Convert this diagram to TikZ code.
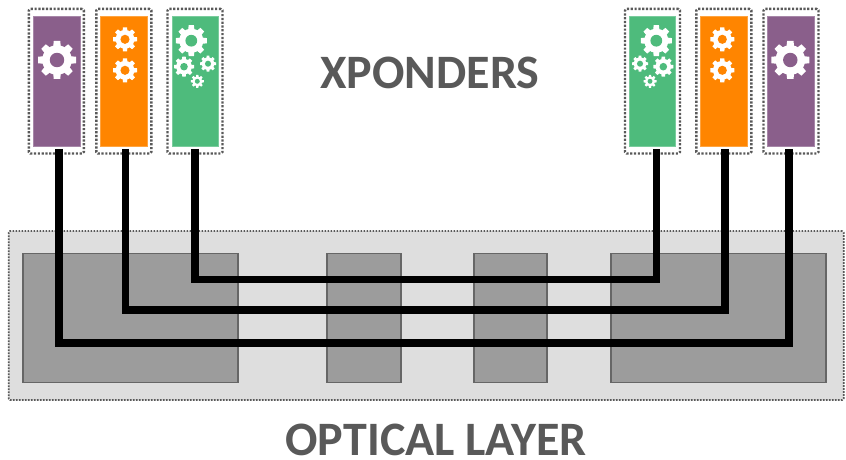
\documentclass[tikz,border=0pt]{standalone}
\usepackage{fontspec}
\setmainfont{Carlito}
\usepackage{xcolor}
\usetikzlibrary{positioning,calc}

\definecolor{xpPurple}{HTML}{8A5F8B}
\definecolor{xpOrange}{HTML}{FF8500}
\definecolor{xpGreen}{HTML}{4EBB7C}
\definecolor{layerGray}{HTML}{DEDEDE}
\definecolor{blockGray}{HTML}{9C9C9C}
\definecolor{labelGray}{HTML}{595959}

% gear at x, y with radius and background colour
\newcommand{\gearicon}[4]{
  \begin{scope}[shift={(#1,#2)},scale=#3]
    \fill[white] (0,0) circle (0.78);
    \foreach \a in {0,45,...,315}
      \fill[white,rotate=\a] (-0.21,0.6) -- (-0.17,1) -- (0.17,1) -- (0.21,0.6) -- cycle;
    \fill[#4] (0,0) circle (0.38);
  \end{scope}
}

\begin{document}
\begin{tikzpicture}[x=1pt,y=-1pt,
  xpcard/.style={rectangle, draw=#1!75!white, fill=#1, line width=0.6pt, minimum width=46.5pt, minimum height=130pt, inner sep=0pt},
  xpframe/.style={rectangle, draw=labelGray, dash pattern=on 2.2pt off 1.6pt, line width=2.4pt, rounded corners=1.5pt, minimum width=55pt, minimum height=144.5pt, inner sep=0pt},
  oblock/.style={rectangle, draw=black!60, fill=blockGray, line width=1.7pt, minimum height=129pt, inner sep=0pt},
  fibre/.style={line width=7.6pt, black, line join=miter},
  biglabel/.style={font=\bfseries\fontsize{48}{48}\selectfont, text=labelGray, inner sep=0pt}]
\useasboundingbox (0,0) rectangle (846,460);

% Optical layer and its blocks
\node[rectangle, draw=labelGray, fill=layerGray, dash pattern=on 1.7pt off 1.3pt, line width=1.8pt, rounded corners=1.5pt, minimum width=835pt, minimum height=169pt, inner sep=0pt] (layer) at (426.2,315.5) {};
\node[oblock, minimum width=215pt] (blockA) at (130.8,318) {};
\node[oblock, minimum width=74pt] (blockB) at (364,318) {};
\node[oblock, minimum width=73.5pt] (blockC) at (510.5,318) {};
\node[oblock, minimum width=215pt] (blockD) at (718.5,318) {};

% Left xponders
\node[xpframe] (frameA) at (56.3,81.2) {};
\node[xpframe] (frameB) at (123.8,81.2) {};
\node[xpframe] (frameC) at (195,81.2) {};
\node[xpcard=xpPurple] (xpA) at (56.8,81) {};
\node[xpcard=xpOrange] (xpB) at (123.7,81) {};
\node[xpcard=xpGreen] (xpC) at (195.2,81) {};

% Right xponders
\node[xpframe] (frameD) at (652.5,81.2) {};
\node[xpframe] (frameE) at (723.8,81.2) {};
\node[xpframe] (frameF) at (791,81.2) {};
\node[xpcard=xpGreen] (xpD) at (652.5,81) {};
\node[xpcard=xpOrange] (xpE) at (723.8,81) {};
\node[xpcard=xpPurple] (xpF) at (790.8,81) {};

% Gears
\gearicon{57}{60}{19}{xpPurple}
\gearicon{125}{39.3}{12}{xpOrange}
\gearicon{125}{70.3}{12}{xpOrange}
\gearicon{191.3}{40.7}{15.5}{xpGreen}
\gearicon{184}{66.7}{10}{xpGreen}
\gearicon{208}{63.7}{8}{xpGreen}
\gearicon{197.3}{81.3}{6.5}{xpGreen}
\gearicon{656.3}{40.7}{15.5}{xpGreen}
\gearicon{663.3}{66.7}{10}{xpGreen}
\gearicon{640}{63.7}{8}{xpGreen}
\gearicon{650}{81.3}{6.5}{xpGreen}
\gearicon{722.3}{39.3}{12}{xpOrange}
\gearicon{722.3}{70.3}{12}{xpOrange}
\gearicon{790.3}{60}{19}{xpPurple}

% Fibres between xponders
\draw[fibre] ([xshift=1.9pt,yshift=-2.5pt]xpA.south) -- ([xshift=1.9pt]xpA.south |- 0,343) -- ([xshift=-2.1pt]xpF.south |- 0,343) -- ([xshift=-2.1pt,yshift=-2.5pt]xpF.south);
\draw[fibre] ([xshift=1.6pt,yshift=-2.5pt]xpB.south) -- ([xshift=1.6pt]xpB.south |- 0,310) -- ([xshift=0.9pt]xpE.south |- 0,310) -- ([xshift=0.9pt,yshift=-2.5pt]xpE.south);
\draw[fibre] ([xshift=-0.2pt,yshift=-2.5pt]xpC.south) -- ([xshift=-0.2pt]xpC.south |- 0,279.3) -- ([xshift=3.8pt]xpD.south |- 0,279.3) -- ([xshift=3.8pt,yshift=-2.5pt]xpD.south);

% Labels
\node[biglabel] (xponders) at (430,73) {XPONDERS};
\node[biglabel] (optical) at (436,440) {OPTICAL LAYER};

\end{tikzpicture}
\end{document}
